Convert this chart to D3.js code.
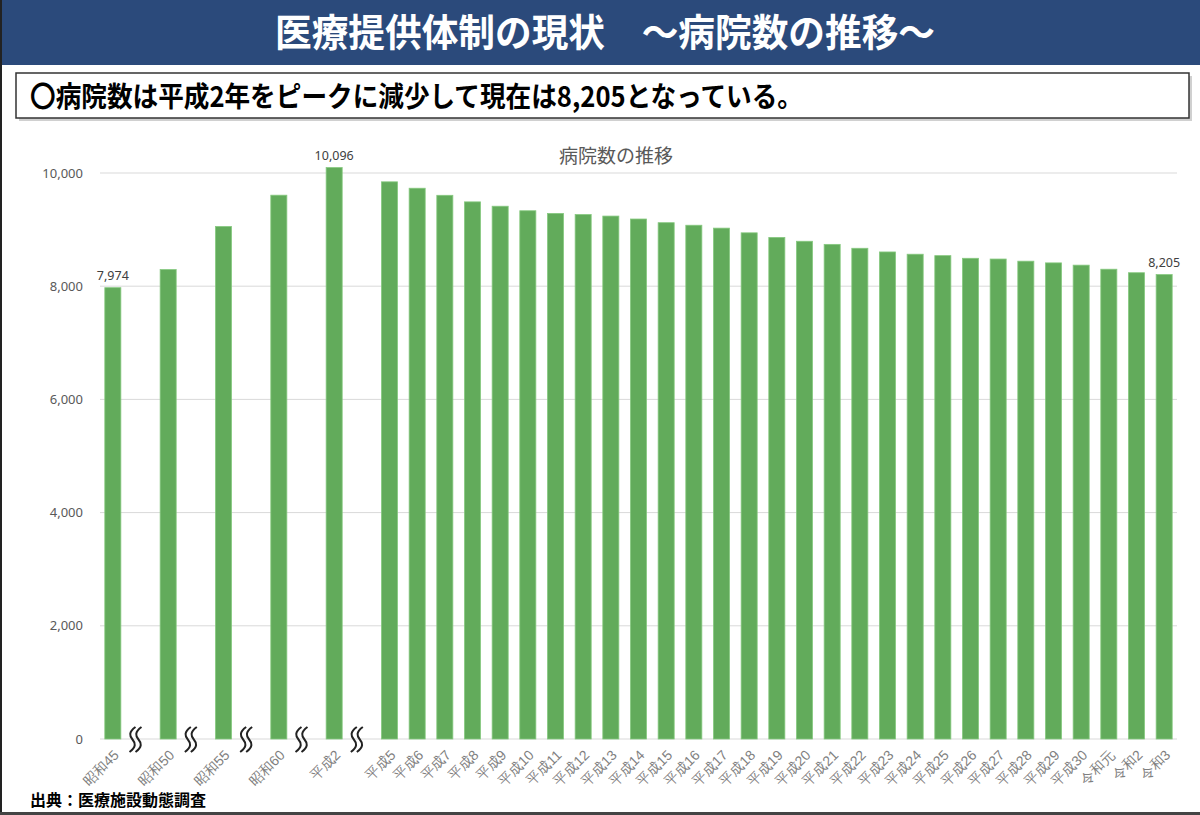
<!DOCTYPE html>
<html><head><meta charset="utf-8">
<script src="https://cdn.jsdelivr.net/npm/d3@7"></script>
<style>
html,body{margin:0;padding:0;background:#fff;}
svg{display:block;font-family:"Noto Sans CJK JP","Noto Sans",sans-serif;}
</style></head>
<body><svg id="c" width="1200" height="815"></svg>
<script>
const pageTitle = "医療提供体制の現状　～病院数の推移～";
const summary = "〇病院数は平成2年をピークに減少して現在は8,205となっている。";
const chartTitle = "病院数の推移";
const sourceNote = "出典：医療施設動態調査";
const categories = ["昭和45","昭和50","昭和55","昭和60","平成2",
  "平成5","平成6","平成7","平成8","平成9","平成10","平成11","平成12","平成13","平成14",
  "平成15","平成16","平成17","平成18","平成19","平成20","平成21","平成22","平成23","平成24",
  "平成25","平成26","平成27","平成28","平成29","平成30","令和元","令和2","令和3"];
const hospitals = [7974,8294,9055,9608,10096,
  9844,9731,9606,9490,9413,9333,9286,9266,9239,9187,
  9122,9077,9026,8943,8862,8794,8739,8670,8605,8565,
  8540,8493,8480,8442,8412,8372,8300,8238,8205];
const breakAfter = ["昭和45","昭和50","昭和55","昭和60","平成2"];
const labeled = ["昭和45","平成2","令和3"];
const yTicks = [0,2000,4000,6000,8000,10000];

const svg = d3.select("#c");
// header
svg.append("rect").attr("x",0).attr("y",0).attr("width",1200).attr("height",65).attr("fill","#2b4a7b");
svg.append("text").attr("x",605).attr("y",46).attr("text-anchor","middle")
  .attr("fill","#fff").attr("font-size",38).attr("font-weight",700)
  .attr("textLength",660).attr("lengthAdjust","spacingAndGlyphs").text(pageTitle);
// frame edges
svg.append("rect").attr("x",0).attr("y",0).attr("width",2).attr("height",815).attr("fill","#222");
svg.append("rect").attr("x",0).attr("y",812).attr("width",1200).attr("height",3).attr("fill","#444");
// summary box
svg.append("rect").attr("x",19).attr("y",76).attr("width",1173).attr("height",45).attr("fill","#d0d0d0");
svg.append("rect").attr("x",16).attr("y",73).attr("width",1173).attr("height",45)
  .attr("fill","#fff").attr("stroke","#333").attr("stroke-width",1.5);
svg.append("text").attr("x",30).attr("y",107).attr("fill","#000")
  .attr("font-size",28).attr("font-weight",700)
  .attr("textLength",773).attr("lengthAdjust","spacingAndGlyphs").text(summary);

// chart
const slots = [];
categories.forEach(c => { slots.push(c); if (breakAfter.includes(c)) slots.push("gap-"+c); });
const x = d3.scaleBand().domain(slots).range([99,1178]).paddingInner(0.42).paddingOuter(0.21);
const y = d3.scaleLinear().domain([0,10000]).range([739,173]);

svg.append("text").attr("x",616).attr("y",163).attr("text-anchor","middle")
  .attr("fill","#595959").attr("font-size",19).text(chartTitle);

const grid = svg.append("g");
grid.selectAll("line").data(yTicks).join("line")
  .attr("x1",100).attr("x2",1177).attr("y1",d=>y(d)).attr("y2",d=>y(d))
  .attr("stroke","#d9d9d9").attr("stroke-width",1);

const yAxis = svg.append("g").attr("transform","translate(100,0)")
  .call(d3.axisLeft(y).tickValues(yTicks).tickFormat(d3.format(",")).tickSize(0).tickPadding(17));
yAxis.select(".domain").remove();
yAxis.selectAll("text").attr("fill","#595959").attr("font-size",13)
  .attr("font-family","'Noto Sans','Open Sans',sans-serif");

svg.append("g").selectAll("rect").data(categories).join("rect")
  .attr("x",d=>x(d)).attr("width",x.bandwidth())
  .attr("y",(d,i)=>y(hospitals[i])).attr("height",(d,i)=>y(0)-y(hospitals[i]))
  .attr("fill","#62ab5b").attr("stroke","#86c97f").attr("stroke-width",0.8);

svg.append("g").selectAll("text").data(categories.filter(c=>labeled.includes(c))).join("text")
  .attr("x",d=>x(d)+x.bandwidth()/2)
  .attr("y",d=>y(hospitals[categories.indexOf(d)])-8)
  .attr("text-anchor","middle").attr("fill","#404040").attr("font-size",12.5)
  .attr("font-family","'Noto Sans','Open Sans',sans-serif")
  .text(d=>d3.format(",")(hospitals[categories.indexOf(d)]));

const xAxis = svg.append("g").attr("transform","translate(0,739)")
  .call(d3.axisBottom(x).tickValues(categories).tickSize(0).tickPadding(0));
xAxis.select(".domain").remove();
xAxis.selectAll("text")
  .attr("fill","#7f7f7f").attr("font-size",14)
  .attr("text-anchor","end").attr("dy",0).attr("y",0)
  .attr("transform","translate(7,17) rotate(-45)");

// break marks
const br = svg.append("g");
breakAfter.forEach(c => {
  const cx = x("gap-"+c) + x.bandwidth()/2 - 5;
  [-3,3].forEach(off => {
    const x0 = cx + off, yt = 727, yb = 752;
    br.append("path")
      .attr("d",`M${x0+3},${yt} C${x0-4},${yt+5} ${x0-3},${yt+9} ${x0},${(yt+yb)/2} C${x0+3},${yb-9} ${x0+4},${yb-5} ${x0-3},${yb}`)
      .attr("fill","none").attr("stroke","#222").attr("stroke-width",2);
  });
});

svg.append("text").attr("x",30).attr("y",806).attr("fill","#000")
  .attr("font-size",16).attr("font-weight",700).text(sourceNote);
</script></body></html>
